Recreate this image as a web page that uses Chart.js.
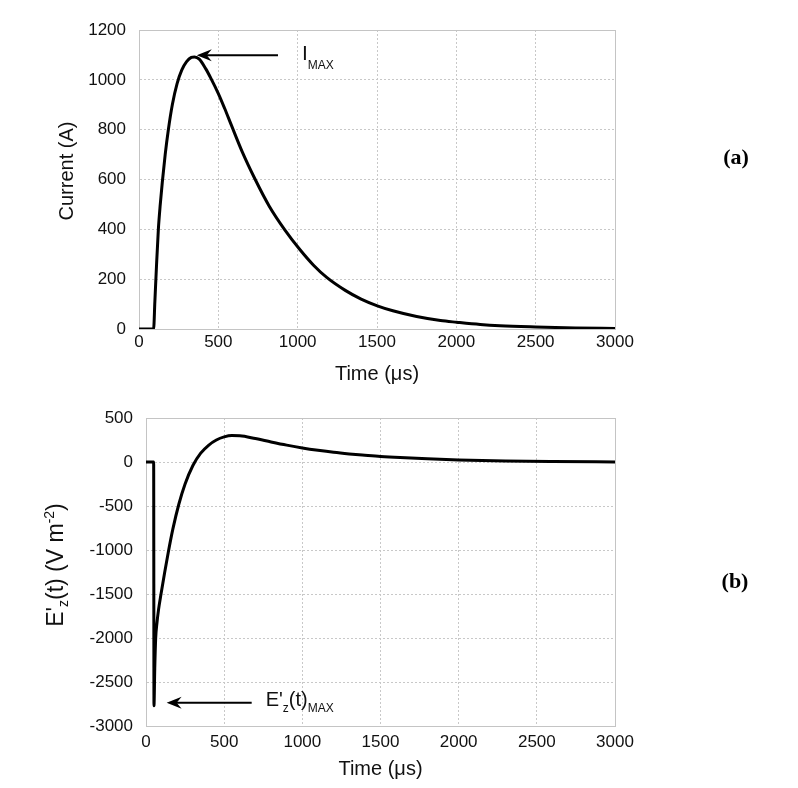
<!DOCTYPE html>
<html>
<head>
<meta charset="utf-8">
<script src="https://cdn.jsdelivr.net/npm/chart.js@4.4.1/dist/chart.umd.min.js"></script>
<style>
  html, body { margin: 0; padding: 0; background: #fff; }
  .panel { position: absolute; left: 0; width: 798px; height: 394px; }
</style>
</head>
<body>
<div class="panel" style="top:0"><canvas id="currentChart" width="798" height="394"></canvas></div>
<div class="panel" style="top:394px"><canvas id="fieldChart" width="798" height="394"></canvas></div>
<script>
// (a) lightning current
const timeCurrent = [0, 92, 100, 110, 122, 134, 147, 165, 185, 210, 240, 270, 300, 330, 350, 380, 420, 454, 500, 540, 584, 650, 731, 820, 920, 1015, 1100, 1183, 1300, 1400, 1502, 1600, 1750, 1900, 2002, 2150, 2275, 2500, 2750, 3000];
const current     = [0, 0, 110, 250, 400, 500, 590, 700, 800, 900, 985, 1040, 1073, 1090, 1092, 1083, 1045, 1005, 945, 885, 815, 712, 602, 494, 397, 318, 256, 207, 155, 120, 93, 73, 50, 34, 27, 18, 13, 8, 4, 2];

// (b) field derivative
const timeField = [0, 49, 51, 56, 62, 70, 80, 96, 118, 142, 172, 210, 250, 300, 350, 400, 450, 500, 550, 600, 700, 800, 900, 1000, 1100, 1200, 1300, 1400, 1500, 1625, 1800, 2000, 2300, 2600, 3000];
const field     = [0, 0, -2770, -2350, -2000, -1830, -1680, -1500, -1270, -1030, -760, -480, -250, -40, 100, 190, 250, 285, 300, 298, 266, 228, 192, 160, 133, 110, 92, 77, 63, 50, 36, 23, 11, 5, 1];

const timeTicks = [0, 500, 1000, 1500, 2000, 2500, 3000];

// annotation arrows in data units: [tail t, tip t, value]
const iMaxArrow = [876, 364, 1099];
const eMaxArrow = [676, 132, -2735];

const FONT = '"Liberation Sans", Arial, sans-serif';
Chart.defaults.font.family = FONT;
Chart.defaults.color = '#111';

function drawArrow(ctx, x1, y, x2) {
    ctx.save();
    ctx.strokeStyle = '#000'; ctx.fillStyle = '#000'; ctx.lineWidth = 2;
    ctx.beginPath(); ctx.moveTo(x1, y); ctx.lineTo(x2 + 8, y); ctx.stroke();
    ctx.beginPath();
    ctx.moveTo(x2, y); ctx.lineTo(x2 + 15, y - 6); ctx.lineTo(x2 + 10, y); ctx.lineTo(x2 + 15, y + 6);
    ctx.closePath(); ctx.fill();
    ctx.restore();
}

function runsWidth(ctx, runs) {
    let w = 0;
    for (const [txt, size] of runs) { ctx.font = size + 'px ' + FONT; w += ctx.measureText(txt).width; }
    return w;
}

function drawRuns(ctx, x, y, runs) {
    for (const [txt, size, dy] of runs) {
        ctx.font = size + 'px ' + FONT;
        ctx.fillText(txt, x, y + dy);
        x += ctx.measureText(txt).width;
    }
}

const frame = {
    id: 'frame',
    beforeDatasetsDraw(chart) {
        const { ctx, chartArea: a } = chart;
        ctx.save();
        ctx.strokeStyle = '#c4c4c4'; ctx.lineWidth = 1;
        ctx.strokeRect(Math.round(a.left) + 0.5, Math.round(a.top) + 0.5, Math.round(a.right - a.left), Math.round(a.bottom - a.top));
        ctx.restore();
    }
};

function makeOptions(xFit, yFit, yMin, yMax, yStep, padTop, tickPad, titlePad) {
    return {
        responsive: false,
        animation: false,
        layout: { padding: { top: padTop, right: 183, left: 0, bottom: 0 } },
        plugins: { legend: { display: false }, tooltip: { enabled: false } },
        elements: { point: { radius: 0 } },
        scales: {
            x: {
                type: 'linear', min: 0, max: 3000,
                afterBuildTicks: s => { s.ticks = timeTicks.map(v => ({ value: v })); },
                ticks: { padding: tickPad, color: '#111', font: { size: 17 }, maxRotation: 0, callback: v => String(v) },
                grid: { color: '#c8c8c8', drawTicks: false },
                border: { color: '#c4c4c4', dash: [2, 2] },
                title: { display: true, text: 'Time (μs)', color: '#111', font: { size: 20 }, padding: { top: 0, bottom: titlePad } },
                afterFit: s => { s.height = xFit; }
            },
            y: {
                type: 'linear', min: yMin, max: yMax,
                ticks: { stepSize: yStep, padding: 13, color: '#111', font: { size: 17 }, callback: v => String(v) },
                grid: { color: '#c8c8c8', drawTicks: false },
                border: { color: '#c4c4c4', dash: [2, 2] },
                afterFit: s => { s.width = yFit; }
            }
        }
    };
}

// ---- (a) current chart ----
const currentLabels = {
    id: 'currentLabels',
    afterDraw(chart) {
        const { ctx, scales: { x, y } } = chart;
        const tail = x.getPixelForValue(iMaxArrow[0]);
        const tip = x.getPixelForValue(iMaxArrow[1]);
        const yy = y.getPixelForValue(iMaxArrow[2]);
        drawArrow(ctx, tail, yy, tip);
        ctx.save();
        ctx.fillStyle = '#111'; ctx.textBaseline = 'alphabetic';
        drawRuns(ctx, tail + 24, yy + 4.5, [['I', 21, 0], ['MAX', 12, 9]]);
        // axis title
        ctx.translate(67, 171); ctx.rotate(-Math.PI / 2);
        ctx.textAlign = 'center'; ctx.textBaseline = 'middle';
        ctx.font = '20px ' + FONT;
        ctx.fillText('Current (A)', 0, 0);
        ctx.restore();
        ctx.save();
        ctx.fillStyle = '#000'; ctx.textAlign = 'center'; ctx.textBaseline = 'middle';
        ctx.font = 'bold 22px "Liberation Serif", "Times New Roman", serif';
        ctx.fillText('(a)', 736, 158);
        ctx.restore();
    }
};

new Chart(document.getElementById('currentChart'), {
    type: 'line',
    data: {
        datasets: [{
            data: timeCurrent.map((t, i) => ({ x: t, y: current[i] })),
            borderColor: '#000', borderWidth: 3, fill: false, cubicInterpolationMode: 'monotone'
        }]
    },
    options: makeOptions(65, 139, 0, 1200, 200, 30, 3, 8),
    plugins: [frame, currentLabels]
});

// ---- (b) field chart ----
const fieldLabels = {
    id: 'fieldLabels',
    afterDraw(chart) {
        const { ctx, scales: { x, y } } = chart;
        const tail = x.getPixelForValue(eMaxArrow[0]);
        const tip = x.getPixelForValue(eMaxArrow[1]);
        const yy = y.getPixelForValue(eMaxArrow[2]);
        drawArrow(ctx, tail, yy, tip);
        ctx.save();
        ctx.fillStyle = '#111'; ctx.textBaseline = 'alphabetic';
        drawRuns(ctx, tail + 14, yy + 3.5, [["E'", 20, 0], ['z', 12, 6], ['(t)', 20, 0], ['MAX', 12, 6]]);
        // axis title with sub/superscript
        const runs = [["E'", 23, 0], ['z', 14, 5], ['(t) (V m', 23, 0], ['-2', 14, -9], [')', 23, 0]];
        ctx.translate(63, 565 - 394); ctx.rotate(-Math.PI / 2);
        drawRuns(ctx, -runsWidth(ctx, runs) / 2, 0, runs);
        ctx.restore();
        ctx.save();
        ctx.fillStyle = '#000'; ctx.textAlign = 'center'; ctx.textBaseline = 'middle';
        ctx.font = 'bold 22px "Liberation Serif", "Times New Roman", serif';
        ctx.fillText('(b)', 735, 582 - 394);
        ctx.restore();
    }
};

new Chart(document.getElementById('fieldChart'), {
    type: 'line',
    data: {
        datasets: [{
            data: timeField.map((t, i) => ({ x: t, y: field[i] })),
            borderColor: '#000', borderWidth: 3, fill: false, cubicInterpolationMode: 'monotone'
        }]
    },
    options: makeOptions(62, 146, -3000, 500, 500, 24, 6, 6.5),
    plugins: [frame, fieldLabels]
});
</script>
</body>
</html>
